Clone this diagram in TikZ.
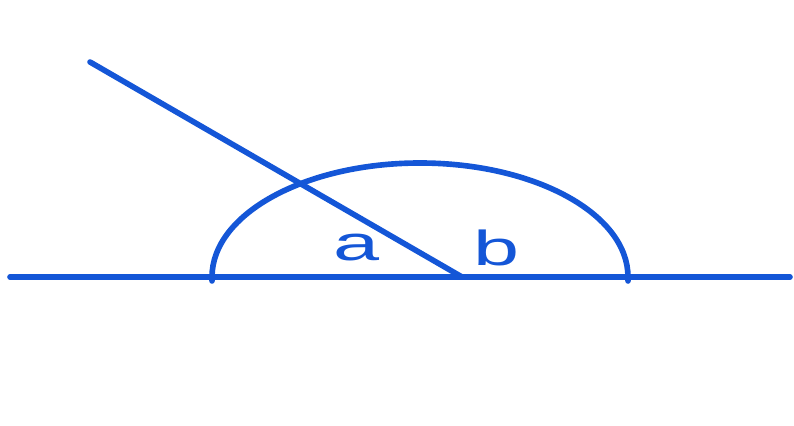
\documentclass[tikz,border=0pt]{standalone}
\usepackage{fontspec}
\setsansfont{Liberation Sans}
\usetikzlibrary{calc}
\definecolor{lineblue}{RGB}{20,86,215}

\begin{document}
\begin{tikzpicture}[
        line/.style={lineblue, line width=4pt, line cap=round},
        angle label/.style={text=lineblue, font=\sffamily\fontsize{38}{38}\selectfont,
          xscale=1.55, yscale=0.92, inner sep=0pt}
      ]

      \def\Rx{5.2}
      \def\Ry{2.85}

      \useasboundingbox (0,0) rectangle (19.85,10.65);

      % base line and the point where the ray meets it
      \coordinate (Left) at (0.25,3.725);
      \coordinate (Right) at (19.75,3.725);
      \coordinate (O) at (11.55,3.725);
      \coordinate (Tip) at (2.25,9.1);
      \coordinate (C) at (10.5,3.725);

      \draw[line] (Left) -- (Right);

      % half ellipse over the base line
      \draw[line] ($(C)+(-\Rx,-0.1)$) -- ($(C)+(-\Rx,0)$)
      arc[start angle=180, end angle=0, x radius=\Rx, y radius=\Ry]
      -- ++(0,-0.1);

      % ray
      \draw[line] (Tip) -- (O);

      \node[angle label] (a) at (8.925,4.45) {a};
      \node[angle label] (b) at (12.425,4.45) {b};

    \end{tikzpicture}
\end{document}
